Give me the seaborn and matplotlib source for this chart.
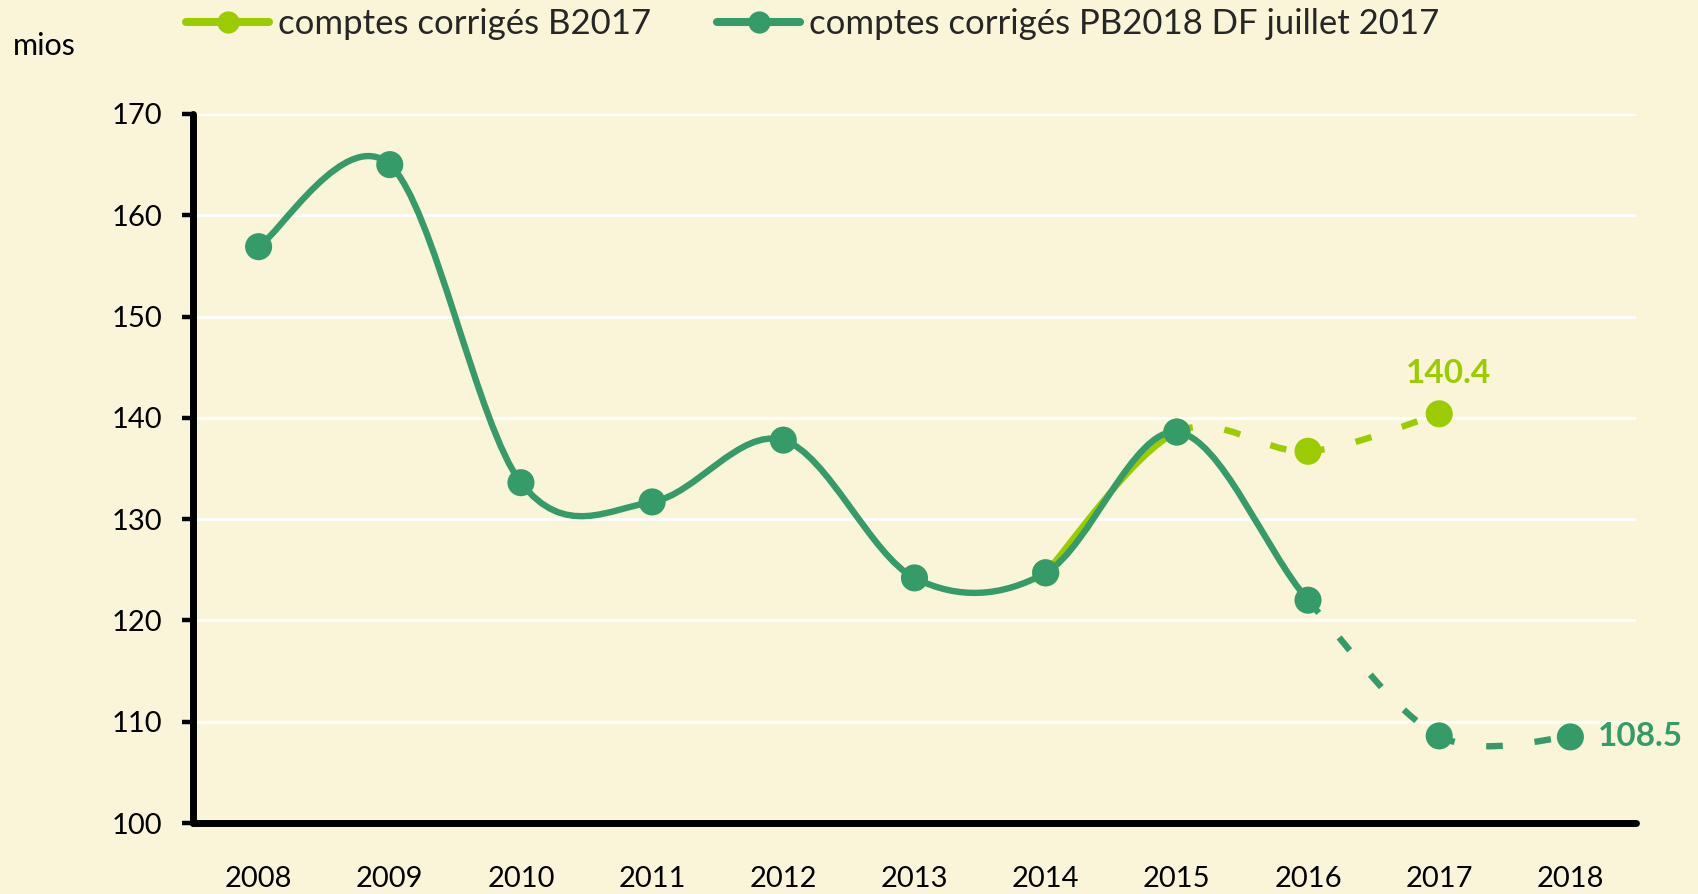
import numpy as np
import pandas as pd
import matplotlib
matplotlib.use("Agg")
import matplotlib.pyplot as plt
import seaborn as sns
from matplotlib.path import Path
from matplotlib.patches import PathPatch
from matplotlib.lines import Line2D

# ---------------- data ----------------
years = ["2008", "2009", "2010", "2011", "2012", "2013", "2014", "2015", "2016", "2017", "2018"]
pb2018_years = ["2008", "2009", "2010", "2011", "2012", "2013", "2014", "2015", "2016", "2017", "2018"]
pb2018_values = [156.9, 165.0, 133.6, 131.7, 137.8, 124.2, 124.7, 138.6, 122.0, 108.6, 108.5]
b2017_years = ["2014", "2015", "2016", "2017"]
b2017_values = [124.7, 138.6, 136.7, 140.4]
pb2018_dashed_from = "2016"
b2017_dashed_from = "2015"
label_b2017 = "comptes corrigés B2017"
label_pb2018 = "comptes corrigés PB2018 DF juillet 2017"
y_ticks = [100, 110, 120, 130, 140, 150, 160, 170]

# ---------------- style ----------------
BG = "#FAF5D8"
DARK = "#359B68"
LIGHT = "#9ACC00"
LW = 4.6

sns.set_theme(style="white", rc={"axes.facecolor": BG, "figure.facecolor": BG})
plt.rcParams["font.family"] = ["Lato", "DejaVu Sans"]

fig = plt.figure(figsize=(16.99, 8.94), dpi=100)
ax = fig.add_axes([0.1136, 0.0794, 0.8493, 0.7931])

pos = {y: i for i, y in enumerate(years)}

df = pd.concat([
    pd.DataFrame({"x": [pos[y] for y in b2017_years], "value": b2017_values, "series": label_b2017}),
    pd.DataFrame({"x": [pos[y] for y in pb2018_years], "value": pb2018_values, "series": label_pb2018}),
], ignore_index=True)


def draw_spline(ax, yrs, vals, color, dashed_from, z):
    xs = [pos[y] for y in yrs]
    n = len(xs)
    pts = list(zip(xs, vals))
    for i in range(n - 1):
        p0 = pts[i - 1] if i > 0 else pts[i]
        p1 = pts[i]
        p2 = pts[i + 1]
        p3 = pts[i + 2] if i + 2 < n else pts[i + 1]
        c1 = (p1[0] + (p2[0] - p0[0]) / 6.0, p1[1] + (p2[1] - p0[1]) / 6.0)
        c2 = (p2[0] - (p3[0] - p1[0]) / 6.0, p2[1] - (p3[1] - p1[1]) / 6.0)
        path = Path([p1, c1, c2, p2], [Path.MOVETO, Path.CURVE4, Path.CURVE4, Path.CURVE4])
        dashed = pos[yrs[i]] >= pos[dashed_from]
        patch = PathPatch(path, facecolor="none", edgecolor=color, lw=LW,
                          linestyle=(0, (2.6, 5.0)) if dashed else "-", zorder=z)
        patch.set_capstyle("butt" if dashed else "round")
        patch.set_joinstyle("round")
        ax.add_patch(patch)


draw_spline(ax, b2017_years, b2017_values, LIGHT, b2017_dashed_from, 3)
draw_spline(ax, pb2018_years, pb2018_values, DARK, pb2018_dashed_from, 3.5)

sns.scatterplot(data=df, x="x", y="value", hue="series",
                palette={label_b2017: LIGHT, label_pb2018: DARK},
                s=380, linewidth=0, legend=False, ax=ax, zorder=5)

# annotations
ax.annotate(f"{b2017_values[-1]:.1f}", xy=(pos[b2017_years[-1]], b2017_values[-1]),
            xytext=(7, 22), textcoords="offset points", ha="center", va="baseline",
            color=LIGHT, fontsize=24, fontweight="bold")
ax.annotate(f"{pb2018_values[-1]:.1f}", xy=(pos[pb2018_years[-1]], pb2018_values[-1]),
            xytext=(20, 0), textcoords="offset points", ha="left", va="center",
            color=DARK, fontsize=24, fontweight="bold", annotation_clip=False)

# axes
ax.set_xlim(-0.5, len(years) - 0.5)
ax.set_ylim(100, 170)
ax.set_xlabel("")
ax.set_ylabel("")
ax.set_yticks(y_ticks)
ax.set_yticklabels([str(t) for t in y_ticks])
ax.set_xticks(np.arange(-0.5, len(years), 1.0))
ax.set_xticklabels([])
ax.set_xticks(np.arange(len(years)), minor=True)
ax.set_xticklabels(years, minor=True)
ax.tick_params(axis="x", which="major", direction="out", length=8, width=3.2, color="black")
ax.tick_params(axis="x", which="minor", length=0, pad=31, labelsize=21, labelcolor="black")
ax.tick_params(axis="y", which="major", direction="out", length=8, width=3.2, color="black",
               pad=14, labelsize=21, labelcolor="black", left=True)
ax.yaxis.grid(True, color="white", lw=2)
ax.xaxis.grid(False)
ax.set_axisbelow(True)
for s in ["top", "right"]:
    ax.spines[s].set_visible(False)
for s in ["left", "bottom"]:
    ax.spines[s].set_color("black")
    ax.spines[s].set_linewidth(5)
    ax.spines[s].set_capstyle("round")

# legend
handles = [
    Line2D([], [], color=LIGHT, lw=5.8, marker="o", markersize=15, solid_capstyle="round"),
    Line2D([], [], color=DARK, lw=5.8, marker="o", markersize=15, solid_capstyle="round"),
]
fig.legend(handles, [label_b2017, label_pb2018], loc="center left",
           bbox_to_anchor=(186 / 1699, 1 - 24 / 894), ncol=2, frameon=False,
           fontsize=25, handlelength=2.4, handletextpad=0.25, columnspacing=1.9,
           borderpad=0, borderaxespad=0)

fig.text(13 / 1699, 1 - 46 / 894, "mios", ha="left", va="center", fontsize=22, color="black")

fig.savefig("out.png", dpi=100, facecolor=BG)
